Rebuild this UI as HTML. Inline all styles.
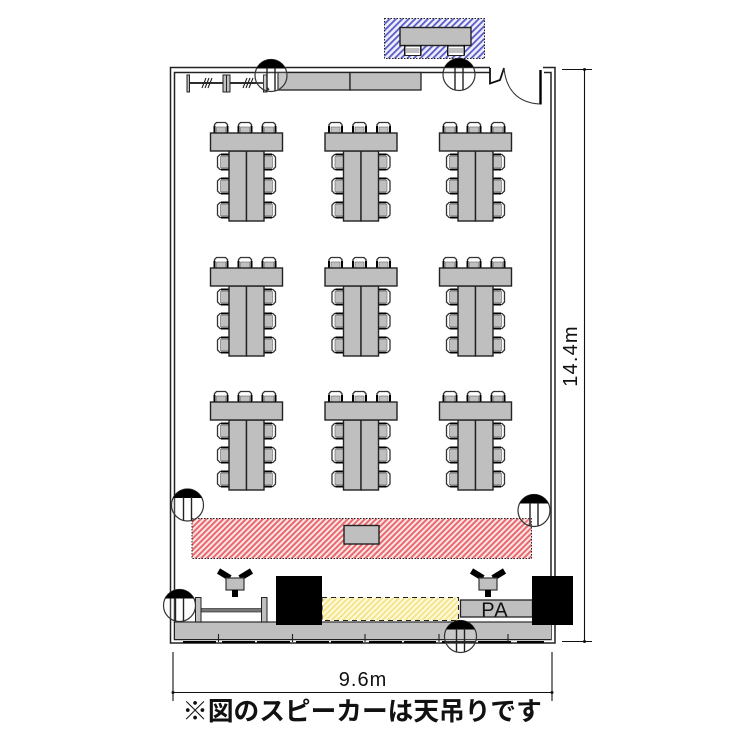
<!DOCTYPE html>
<html><head><meta charset="utf-8"><style>html,body{margin:0;padding:0;background:#fff}svg{display:block}</style></head><body>
<svg width="750" height="750" viewBox="0 0 750 750" xmlns="http://www.w3.org/2000/svg">
<defs>
<pattern id="blue" width="4.500" height="4.500" patternUnits="userSpaceOnUse" patternTransform="rotate(45)"><rect width="4.500" height="4.500" fill="#eef"/><rect width="1.800" height="4.500" fill="#5a5ac4"/></pattern>
<pattern id="red" width="4" height="4" patternUnits="userSpaceOnUse" patternTransform="rotate(45)"><rect width="4" height="4" fill="#fbe6e6"/><rect width="2" height="4" fill="#e8696f"/></pattern>
<pattern id="yel" width="4" height="4" patternUnits="userSpaceOnUse" patternTransform="rotate(45)"><rect width="4" height="4" fill="#fffbe0"/><rect width="2" height="4" fill="#f5e48a"/></pattern>
<g id="chairTop"><path d="M0.500 11V2.500L2.500 0.500H11.500L13.500 2.500V11Z" fill="#fff" stroke="#333" stroke-width="1.300"/><rect x="2.500" y="5" width="9" height="6" fill="#bfbfbf" stroke="#666" stroke-width=".6"/><path d="M0.500 4V11M13.500 4V11" stroke="#000" stroke-width="2"/></g>
<g id="chairL"><path d="M12 0.500H3L0.500 3V13L3 15.500H12Z" fill="#fff" stroke="#333" stroke-width="1.300"/><rect x="3.500" y="2.500" width="8.500" height="11" fill="#bfbfbf" stroke="#666" stroke-width=".6"/><path d="M4 0.500H12M4 15.500H12" stroke="#000" stroke-width="1.900"/></g>
<g id="chairR"><use href="#chairL" transform="matrix(-1 0 0 1 12 0)"/></g>
<g id="set">
<use href="#chairTop" x="214" y="122"/><use href="#chairTop" x="238" y="122"/><use href="#chairTop" x="262" y="122"/>
<use href="#chairL" x="217" y="154"/><use href="#chairL" x="217" y="178"/><use href="#chairL" x="217" y="202"/>
<use href="#chairR" x="264" y="154"/><use href="#chairR" x="264" y="178"/><use href="#chairR" x="264" y="202"/>
<rect x="229" y="151" width="17.500" height="70" fill="#bfbfbf" stroke="#222" stroke-width="1.400"/>
<rect x="246.500" y="151" width="17.500" height="70" fill="#bfbfbf" stroke="#222" stroke-width="1.400"/>
<rect x="210.500" y="133" width="72" height="18" fill="#bfbfbf" stroke="#222" stroke-width="1.400"/>
</g>
<g id="spk"><circle r="16" fill="#fff" fill-opacity=".15" stroke="#333" stroke-width="1.200"/><path d="M-14.400 -7A16 16 0 0 1 14.400 -7Z" fill="#000"/><path d="M-4 -8V15.500M4 -8V15.500" stroke="#222" stroke-width="1.400"/></g>
<g id="ystand"><path d="M-16.500 -7L-5 0M16.500 -7L5 0" stroke="#000" stroke-width="6" fill="none"/><rect x="-9" y="0" width="18" height="12" fill="#bfbfbf" stroke="#333" stroke-width="1.200"/><rect x="-3" y="12" width="6" height="7" fill="#000"/></g>
</defs>

<!-- walls -->
<path d="M490 67.500H170.500V643H555V67.500H543" fill="none" stroke="#222" stroke-width="1.500"/>
<path d="M490 72.500H174.500V639.500H551V72.500H544" fill="none" stroke="#222" stroke-width="1.500"/>

<!-- door -->
<path d="M490 68V83.500L500 80L504 68" fill="none" stroke="#111" stroke-width="1.800"/>
<path d="M540.500 70V104.500" fill="none" stroke="#000" stroke-width="2.400"/>
<path d="M504 68C506 90 518 103 540 104" fill="none" stroke="#333" stroke-width="1.100"/>

<!-- blue zone -->
<rect x="384.500" y="18.500" width="100" height="40" fill="url(#blue)" stroke="#222" stroke-width="1" stroke-dasharray="1.500 1.500"/>
<rect x="400" y="27.500" width="71" height="18" fill="#bfbfbf" stroke="#222" stroke-width="1.400"/>
<g stroke="#000"><path d="M405 45V55.500M420.500 45V55.500M448 45V55.500M464 45V55.500" stroke-width="2"/></g>
<rect x="405" y="46" width="15.500" height="9.500" fill="#fff" stroke="#222" stroke-width="1"/>
<rect x="448" y="46" width="16" height="9.500" fill="#fff" stroke="#222" stroke-width="1"/>
<rect x="406" y="48" width="13.500" height="5" fill="#bfbfbf"/>
<rect x="449" y="48" width="14" height="5" fill="#bfbfbf"/>

<!-- top table -->
<rect x="278" y="72.500" width="72" height="17.500" fill="#bfbfbf" stroke="#222" stroke-width="1.300"/>
<rect x="350" y="72.500" width="71" height="17.500" fill="#bfbfbf" stroke="#222" stroke-width="1.300"/>

<!-- rack at top -->
<path d="M189 83H263L269 90" fill="none" stroke="#111" stroke-width="1.700"/>
<rect x="187" y="75" width="2.500" height="17" fill="#bfbfbf" stroke="#222"/>
<rect x="223" y="75" width="3.500" height="17" fill="#bfbfbf" stroke="#222"/>
<rect x="226.500" y="75" width="3.500" height="17" fill="#bfbfbf" stroke="#222"/>
<rect x="263.500" y="75" width="3.500" height="17" fill="#bfbfbf" stroke="#222"/>
<path d="M202 88L206 78M205 88L209 78M208 88L212 78M243 88L247 78M246 88L250 78M249 88L253 78" stroke="#222" stroke-width="1.100"/>

<!-- table sets -->
<use href="#set"/><use href="#set" x="114.500"/><use href="#set" x="229"/>
<use href="#set" y="135"/><use href="#set" x="114.500" y="135"/><use href="#set" x="229" y="135"/>
<use href="#set" y="269"/><use href="#set" x="114.500" y="269"/><use href="#set" x="229" y="269"/>

<!-- red zone -->
<rect x="192" y="518.500" width="339.500" height="40" fill="url(#red)" stroke="#222" stroke-width="1" stroke-dasharray="1.500 1.500"/>
<rect x="344" y="525.500" width="35" height="18.500" fill="#bfbfbf" stroke="#222" stroke-width="1.400"/>

<!-- stage -->
<rect x="175" y="622" width="376" height="17" fill="#bfbfbf"/>
<path d="M175 622H551" stroke="#333" stroke-width="1.200"/>
<path d="M183 642H216M222 642H255M257 642H290M296 642H329M331 642H363M369 642H402M404 642H436M442 642H476M478 642H511M517 642H544" stroke="#000" stroke-width="2"/>
<path d="M218.500 634V642M292.500 634V642M365 634V642M439 634V642M508 634V642" stroke="#222" stroke-width="1.100"/>

<!-- bench -->
<rect x="198" y="608.500" width="66" height="3.500" fill="#777" stroke="#333" stroke-width=".7"/>
<rect x="195.500" y="597.500" width="5.500" height="24.500" fill="#bfbfbf" stroke="#222"/>
<rect x="261.500" y="597.500" width="5.500" height="24.500" fill="#bfbfbf" stroke="#222"/>

<!-- yellow zone -->
<rect x="322" y="597.500" width="136.500" height="23" fill="url(#yel)" stroke="#222" stroke-width="1.100" stroke-dasharray="5 4"/>

<!-- PA -->
<rect x="460.500" y="600" width="72" height="17" fill="#bfbfbf" stroke="#222" stroke-width="1.300"/>
<text x="495" y="616.500" font-family="'Liberation Sans',sans-serif" font-size="20" letter-spacing="1.200" text-anchor="middle" fill="#111">PA</text>

<!-- black speakers -->
<rect x="276" y="576" width="46" height="49" fill="#000"/>
<rect x="532" y="576" width="41" height="49" fill="#000"/>

<!-- stands -->
<use href="#ystand" x="235" y="578"/>
<use href="#ystand" x="488" y="578"/>

<!-- ceiling speakers -->
<use href="#spk" x="271" y="75.500"/>
<use href="#spk" x="459" y="74.500"/>
<use href="#spk" x="187.500" y="505"/>
<use href="#spk" x="534" y="510.500"/>
<use href="#spk" x="179.500" y="605.500"/>
<use href="#spk" x="460.500" y="636.500"/>

<!-- dimensions -->
<g stroke="#111" stroke-width="1.100" fill="none">
<path d="M562 69.500H592M562 641.500H592M584.500 69.500V641.500"/>
<path d="M173 652V701M552 652V701M173 692.500H552"/>
</g>
<g fill="#111"><circle cx="584.500" cy="69.500" r="1.500"/><circle cx="584.500" cy="641.500" r="1.500"/><circle cx="173" cy="692.500" r="1.500"/><circle cx="552" cy="692.500" r="1.500"/></g>
<text transform="translate(577 356) rotate(-90)" font-family="'Liberation Sans',sans-serif" font-size="20" letter-spacing="1.200" text-anchor="middle" fill="#111">14.4m</text>
<text x="363" y="686" font-family="'Liberation Sans',sans-serif" font-size="20" letter-spacing="1" text-anchor="middle" fill="#111">9.6m</text>
<text x="362" y="720" font-family="'Liberation Sans','Noto Sans CJK JP',sans-serif" font-size="25.700" font-weight="700" text-anchor="middle" fill="#111">※図のスピーカーは天吊りです</text>
</svg>
</body></html>
